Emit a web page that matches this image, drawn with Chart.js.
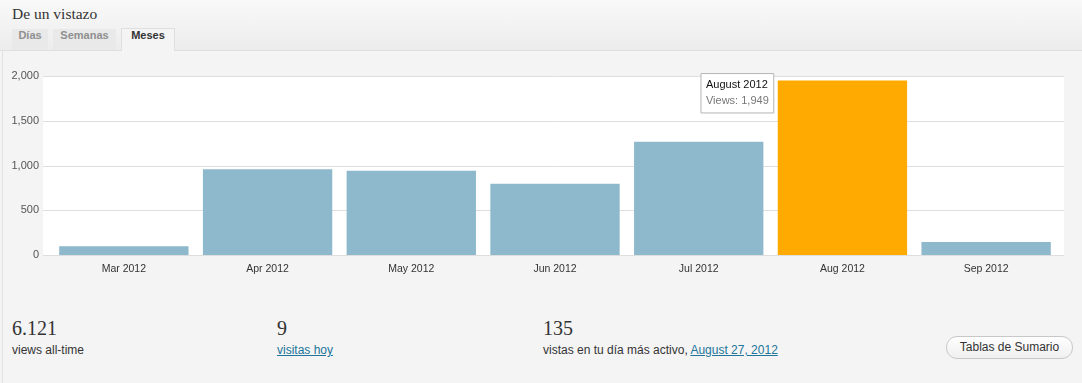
<!DOCTYPE html>
<html lang="es">
  <head>
    <meta charset="UTF-8" />
    <title>De un vistazo</title>
    <script src="https://cdn.jsdelivr.net/npm/chart.js"></script>
    <style>
      html, body { margin: 0; padding: 0; }
      body {
        width: 1082px; height: 383px; overflow: hidden; position: relative;
        background: #f4f4f4; font-family: Arial, "Liberation Sans", sans-serif; color: #333;
      }
      .head {
        position: absolute; left: 0; top: 0; width: 1082px; height: 50px;
        background: linear-gradient(#f9f9f9, #ececec);
        border-bottom: 1px solid #dfdfdf;
      }
      .head h3 {
        position: absolute; left: 12px; top: 5px; margin: 0;
        font: normal 15.5px Georgia, "Liberation Serif", "DejaVu Serif", serif; color: #333;
      }
      .tab {
        position: absolute; top: 29px; height: 21px; line-height: 21px;
        font: bold 11px Arial, "Liberation Sans", sans-serif; color: #8f8f8f;
        background: #e9e9e9; text-align: center;
      }
      .tab.on { background: #f4f4f4; color: #333; border: 1px solid #dfdfdf; border-bottom: none; height: 22px; top: 28px; }
      .frame { position: absolute; left: 2px; top: 51px; width: 1px; height: 332px; background: #e2e2e2; }
      #wrap { position: absolute; left: 0; top: 60px; width: 1082px; height: 225px; }
      .stat { position: absolute; top: 316px; }
      .stat .n { font: normal 20px Georgia, "Liberation Serif", "DejaVu Serif", serif; color: #333; line-height: 24px; }
      .stat .l { font-size: 12px; color: #333; line-height: 16px; margin-top: 2px; }
      .stat a { color: #21759b; text-decoration: underline; }
      .btn {
        position: absolute; left: 946px; top: 336px; width: 125px; height: 21px;
        border: 1px solid #c8c8c8; border-radius: 11px; background: linear-gradient(#fefefe, #f0f0f0);
        font-size: 12px; color: #333; text-align: center; line-height: 21px;
      }
    </style>
  </head>
  <body>
    <div class="head">
      <h3>De un vistazo</h3>
    </div>
    <div class="tab" style="left:12px;width:36px">Días</div>
    <div class="tab" style="left:53px;width:63px">Semanas</div>
    <div class="tab on" style="left:121px;width:52px">Meses</div>
    <div class="frame"></div>

    <div id="wrap"><canvas id="chart"></canvas></div>

    <div class="stat" style="left:12px"><div class="n">6.121</div><div class="l">views all-time</div></div>
    <div class="stat" style="left:277px"><div class="n">9</div><div class="l"><a href="#">visitas hoy</a></div></div>
    <div class="stat" style="left:543px"><div class="n">135</div><div class="l">vistas en tu día más activo, <a href="#">August 27, 2012</a></div></div>
    <div class="btn">Tablas de Sumario</div>

    <script>
      const months = ["Mar 2012", "Apr 2012", "May 2012", "Jun 2012", "Jul 2012", "Aug 2012", "Sep 2012"];
      const fullNames = ["March 2012", "April 2012", "May 2012", "June 2012", "July 2012", "August 2012", "September 2012"];
      const views = [98, 958, 942, 797, 1265, 1949, 145];
      const yTicks = [0, 500, 1000, 1500, 2000];
      const activeIndex = 5;

      const blue = "#8eb9cc";
      const orange = "#ffaa00";

      // white plot box and grid lines, a bit wider than the bar area
      const plotBack = {
        id: "plotBack",
        beforeDatasetsDraw(chart) {
          const { ctx, chartArea, scales } = chart;
          const left = chartArea.left - 9, right = chartArea.right + 6;
          ctx.save();
          ctx.fillStyle = "#ffffff";
          ctx.fillRect(left, chartArea.top, right - left, chartArea.bottom - chartArea.top);
          ctx.strokeStyle = "#dedede";
          ctx.lineWidth = 1;
          yTicks.forEach((v) => {
            const y = Math.round(scales.y.getPixelForValue(v)) + 0.5;
            ctx.beginPath();
            ctx.moveTo(left, y);
            ctx.lineTo(right, y);
            ctx.stroke();
          });
          ctx.restore();
        },
      };

      Chart.Tooltip.positioners.barLeft = function (items) {
        if (!items.length) return false;
        const el = items[0].element;
        return { x: el.x - el.width / 2 - 4, y: el.y - 7 };
      };

      const ctx = document.getElementById("chart").getContext("2d");
      const chart = new Chart(ctx, {
        type: "bar",
        data: {
          labels: months,
          datasets: [
            {
              label: "Views",
              data: views,
              backgroundColor: views.map((v, i) => (i === activeIndex ? orange : blue)),
              hoverBackgroundColor: orange,
              borderWidth: 0,
              barPercentage: 0.9,
              categoryPercentage: 1.0,
            },
          ],
        },
        plugins: [plotBack],
        options: {
          responsive: true,
          maintainAspectRatio: false,
          animation: false,
          layout: { padding: { top: 16, right: 24, left: 0, bottom: 0 } },
          scales: {
            x: {
              grid: { display: false },
              border: { display: false },
              ticks: { color: "#333", font: { family: "Arial, 'Liberation Sans'", size: 10.5 }, padding: 0 },
              afterFit(scale) { scale.height = 30; },
            },
            y: {
              min: 0,
              max: 2000,
              afterBuildTicks(scale) { scale.ticks = yTicks.map((v) => ({ value: v })); },
              grid: { display: false },
              border: { display: false },
              ticks: { color: "#555", font: { family: "Arial, 'Liberation Sans'", size: 11 }, padding: 5 },
              afterFit(scale) { scale.width = 52; },
            },
          },
          plugins: {
            legend: { display: false },
            tooltip: {
              position: "barLeft",
              xAlign: "right",
              yAlign: "top",
              caretSize: 0,
              caretPadding: 0,
              cornerRadius: 0,
              backgroundColor: "#ffffff",
              borderColor: "#b5b5b5",
              borderWidth: 1,
              titleColor: "#111",
              bodyColor: "#777",
              titleFont: { family: "Arial, 'Liberation Sans'", size: 11, weight: "normal" },
              bodyFont: { family: "Arial, 'Liberation Sans'", size: 11 },
              titleMarginBottom: 3,
              padding: { x: 5, y: 5 },
              displayColors: false,
              callbacks: {
                title: (items) => fullNames[items[0].dataIndex],
                label: (item) => "Views: " + item.parsed.y.toLocaleString("en-US"),
              },
            },
          },
        },
      });

      chart.setActiveElements([{ datasetIndex: 0, index: activeIndex }]);
      chart.tooltip.setActiveElements([{ datasetIndex: 0, index: activeIndex }], { x: 0, y: 0 });
      chart.update();
    </script>
  </body>
</html>
